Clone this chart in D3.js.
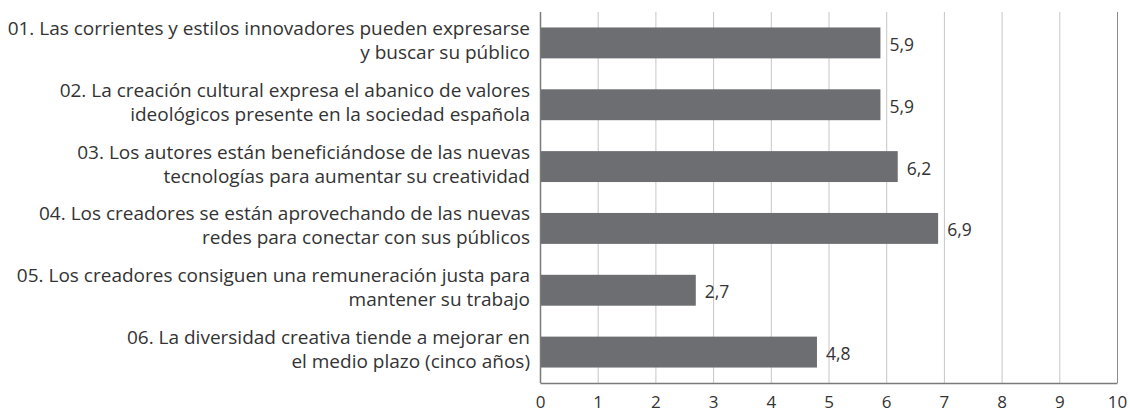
<!DOCTYPE html>
<html>
<head>
<meta charset="utf-8">
<script src="https://cdn.jsdelivr.net/npm/d3@7"></script>
<style>
  html, body { margin: 0; padding: 0; background: #fff; }
  svg { display: block; }
  text { font-family: "Open Sans", sans-serif; fill: #333; }
</style>
</head>
<body>
<svg id="chart" width="1130" height="413"></svg>
<script>
// Statement labels, each split into its two display lines
const categories = [
  ["01. Las corrientes y estilos innovadores pueden expresarse", "y buscar su público"],
  ["02. La creación cultural expresa el abanico de valores", "ideológicos presente en la sociedad española"],
  ["03. Los autores están beneficiándose de las nuevas", "tecnologías para aumentar su creatividad"],
  ["04. Los creadores se están aprovechando de las nuevas", "redes para conectar con sus públicos"],
  ["05. Los creadores consiguen una remuneración justa para", "mantener su trabajo"],
  ["06. La diversidad creativa tiende a mejorar en", "el medio plazo (cinco años)"]
];
const values = [5.9, 5.9, 6.2, 6.9, 2.7, 4.8];
const tickValues = [0, 1, 2, 3, 4, 5, 6, 7, 8, 9, 10];

const svg = d3.select("#chart");
const margin = { top: 12, right: 13, bottom: 30, left: 540 };
const width = 1130 - margin.left - margin.right;
const height = 413 - margin.top - margin.bottom;

const g = svg.append("g").attr("transform", `translate(${margin.left},${margin.top})`);

const x = d3.scaleLinear().domain([0, 10]).range([0, width]);
const y = d3.scaleBand().domain(d3.range(categories.length)).range([0, height]).paddingInner(0.5).paddingOuter(0.25);

// vertical gridlines
g.selectAll("line.grid")
  .data(tickValues.filter(t => t > 0))
  .join("line")
  .attr("class", "grid")
  .attr("x1", d => x(d) + 0.5).attr("x2", d => x(d) + 0.5)
  .attr("y1", 0).attr("y2", height)
  .attr("stroke", d => d === 10 ? "#8c8c8c" : "#c6c6c6")
  .attr("stroke-width", 1);

// bars
g.selectAll("rect.bar")
  .data(values)
  .join("rect")
  .attr("class", "bar")
  .attr("x", x(0))
  .attr("y", (d, i) => y(i))
  .attr("width", d => x(d))
  .attr("height", y.bandwidth())
  .attr("fill", "#6d6e71");

// value labels
g.selectAll("text.val")
  .data(values)
  .join("text")
  .attr("class", "val")
  .attr("x", d => x(d) + 9)
  .attr("y", (d, i) => y(i) + y.bandwidth() / 2 + 1)
  .attr("dominant-baseline", "central")
  .attr("font-size", 17.5)
  .text(d => d3.format(".1f")(d).replace(".", ","));

// category labels (two lines each)
const labels = g.selectAll("text.cat")
  .data(categories)
  .join("text")
  .attr("class", "cat")
  .attr("text-anchor", "end")
  .attr("font-size", 19)
  .attr("transform", (d, i) => `translate(-10,${y(i) + y.bandwidth() / 2 - 3})`);
labels.selectAll("tspan")
  .data(d => d)
  .join("tspan")
  .attr("x", 0)
  .attr("y", (d, j) => (j === 0 ? -12 : 12))
  .attr("dominant-baseline", "central")
  .text(d => d);

// bottom axis
const xAxis = d3.axisBottom(x).tickValues(tickValues).tickSize(0).tickPadding(13).tickFormat(d3.format("d"));
const ax = g.append("g").attr("transform", `translate(0,${height})`).call(xAxis);
ax.select(".domain").attr("stroke", "#7a7a7a").attr("stroke-width", 1.5);
ax.selectAll("text").attr("font-size", 17).attr("font-family", "Open Sans, sans-serif").attr("fill", "#333");

// left axis line
g.append("line")
  .attr("x1", 0.5).attr("x2", 0.5)
  .attr("y1", 0).attr("y2", height)
  .attr("stroke", "#7a7a7a").attr("stroke-width", 1.5);
</script>
</body>
</html>
